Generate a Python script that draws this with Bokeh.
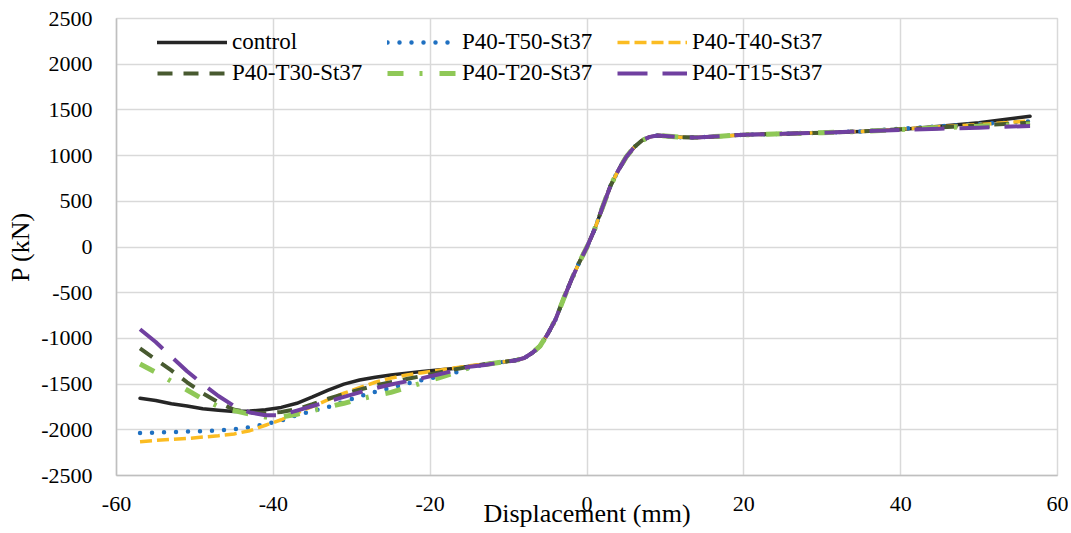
from bokeh.plotting import figure
from bokeh.models import Legend, LegendItem, FixedTicker, Range1d
from bokeh.embed import file_html
from bokeh.resources import INLINE

series_names = ["control", "P40-T50-St37", "P40-T40-St37",
                "P40-T30-St37", "P40-T20-St37", "P40-T15-St37"]

# displacement grids (mm)
disp_left = [-57, -55, -53, -51, -49, -47, -45, -43, -41, -39, -37, -35,
             -33, -31, -29, -27, -25, -23, -21, -19, -17, -15, -13]
disp_mid = [-11, -9, -8, -7, -6, -5, -4, -3, -2, -1, 0, 1, 2, 3, 4, 5, 6,
            7, 8, 9, 10, 12, 14, 17, 20, 25, 30, 35]
disp_right = [40, 45, 50, 56.5]

# shared central branch (kN)
p_mid = [-1262, -1238, -1215, -1160, -1085, -950, -790, -570, -360, -170,
         0, 200, 440, 670, 840, 985, 1090, 1165, 1205, 1220, 1215, 1200,
         1198, 1212, 1228, 1238, 1250, 1265]

# left branches (kN)
p_left_control = [-1655, -1680, -1715, -1740, -1770, -1785, -1800, -1795,
                  -1780, -1755, -1710, -1640, -1565, -1500, -1455, -1425,
                  -1400, -1380, -1362, -1347, -1330, -1305, -1280]
p_left_t50 = [-2035, -2030, -2025, -2020, -2015, -2008, -1995, -1972, -1935,
              -1900, -1840, -1795, -1750, -1690, -1635, -1585, -1540, -1495,
              -1455, -1420, -1380, -1320, -1285]
p_left_t40 = [-2130, -2115, -2105, -2095, -2080, -2065, -2045, -2010, -1950,
              -1890, -1815, -1745, -1670, -1600, -1540, -1480, -1435, -1400,
              -1375, -1350, -1325, -1300, -1280]
p_left_t30 = [-1110, -1230, -1350, -1480, -1600, -1700, -1780, -1810, -1820,
              -1805, -1775, -1720, -1660, -1610, -1560, -1515, -1480, -1445,
              -1410, -1375, -1340, -1310, -1285]
p_left_t20 = [-1280, -1370, -1470, -1565, -1665, -1745, -1790, -1830, -1860,
              -1860, -1830, -1790, -1750, -1710, -1665, -1625, -1590, -1540,
              -1485, -1435, -1380, -1320, -1285]
p_left_t15 = [-900, -1040, -1200, -1360, -1500, -1630, -1740, -1810, -1840,
              -1840, -1790, -1740, -1690, -1640, -1590, -1545, -1505, -1470,
              -1435, -1395, -1355, -1310, -1290]

# right branches (kN)
p_right_control = [1285, 1320, 1360, 1430]
p_right_t50 = [1295, 1320, 1345, 1375]
p_right_t40 = [1290, 1315, 1340, 1380]
p_right_t30 = [1288, 1310, 1330, 1360]
p_right_t20 = [1285, 1305, 1320, 1345]
p_right_t15 = [1280, 1295, 1305, 1325]

x_ticks = [-60, -40, -20, 0, 20, 40, 60]
y_ticks = [-2500, -2000, -1500, -1000, -500, 0, 500, 1000, 1500, 2000, 2500]

lefts = [p_left_control, p_left_t50, p_left_t40, p_left_t30, p_left_t20, p_left_t15]
rights = [p_right_control, p_right_t50, p_right_t40, p_right_t30, p_right_t20, p_right_t15]

styles = [
    dict(color="#262626", dash="solid", width=3.5, cap="round"),
    dict(color="#1F70C1", dash="0 12", width=4.5, cap="round"),
    dict(color="#FBBC22", dash="12 5", width=3.5, cap="butt"),
    dict(color="#485A30", dash="15 11", width=4, cap="butt"),
    dict(color="#8FC857", dash="16 16 3 17", width=5, cap="butt"),
    dict(color="#7040A0", dash="30 15", width=4, cap="butt"),
]

FONT = "'Liberation Serif', 'Times New Roman', serif"

p = figure(width=1068, height=531, output_backend="svg", toolbar_location=None,
           x_range=Range1d(-60, 60), y_range=Range1d(-2500, 2500),
           min_border_left=116, min_border_right=11, min_border_top=18,
           min_border_bottom=56)
p.background_fill_color = "white"
p.border_fill_color = "white"
p.outline_line_color = "#D9D9D9"
p.outline_line_width = 1.5

for g in (p.xgrid[0], p.ygrid[0]):
    g.grid_line_color = "#D9D9D9"
    g.grid_line_width = 1.5
p.xaxis.ticker = FixedTicker(ticks=x_ticks)
p.yaxis.ticker = FixedTicker(ticks=y_ticks)
p.xaxis.major_label_overrides = {t: str(t) for t in x_ticks}
p.yaxis.major_label_overrides = {t: str(t) for t in y_ticks}

for ax in (p.xaxis[0], p.yaxis[0]):
    ax.axis_line_color = "#BFBFBF"
    ax.axis_line_width = 1.5
    ax.major_tick_line_color = None
    ax.minor_tick_line_color = None
    ax.major_tick_out = 0
    ax.major_tick_in = 0
    ax.major_label_text_font = FONT
    ax.major_label_text_font_size = "22px"
    ax.major_label_text_font_style = "normal"
    ax.major_label_text_color = "black"
    ax.axis_label_text_font = FONT
    ax.axis_label_text_font_size = "26px"
    ax.axis_label_text_font_style = "normal"
    ax.axis_label_text_color = "black"

p.yaxis.axis_label = "P (kN)"
p.yaxis.major_label_standoff = 24
p.yaxis.axis_label_standoff = 3
p.xaxis.axis_label = "Displacement (mm)"
p.xaxis.major_label_standoff = 21
p.xaxis.axis_label_standoff = -15

items = []
for name, pl, pr, st in zip(series_names, lefts, rights, styles):
    xs = disp_left + disp_mid + disp_right
    ys = pl + p_mid + pr
    r = p.line(xs, ys, line_color=st["color"], line_width=st["width"],
               line_dash=st["dash"], line_cap=st["cap"], line_join="round")
    items.append(LegendItem(label=name, renderers=[r]))

legend = Legend(items=items, orientation="horizontal", ncols=3,
                location=(41, 389), padding=0, margin=0, spacing=5,
                glyph_width=70, glyph_height=26, label_height=26,
                label_width=150, label_standoff=5,
                label_text_font=FONT, label_text_font_size="23px",
                label_text_font_style="normal",
                label_text_color="black",
                border_line_color=None, background_fill_alpha=0)
p.add_layout(legend, "center")

open("out.html", "w").write(file_html(p, INLINE))
